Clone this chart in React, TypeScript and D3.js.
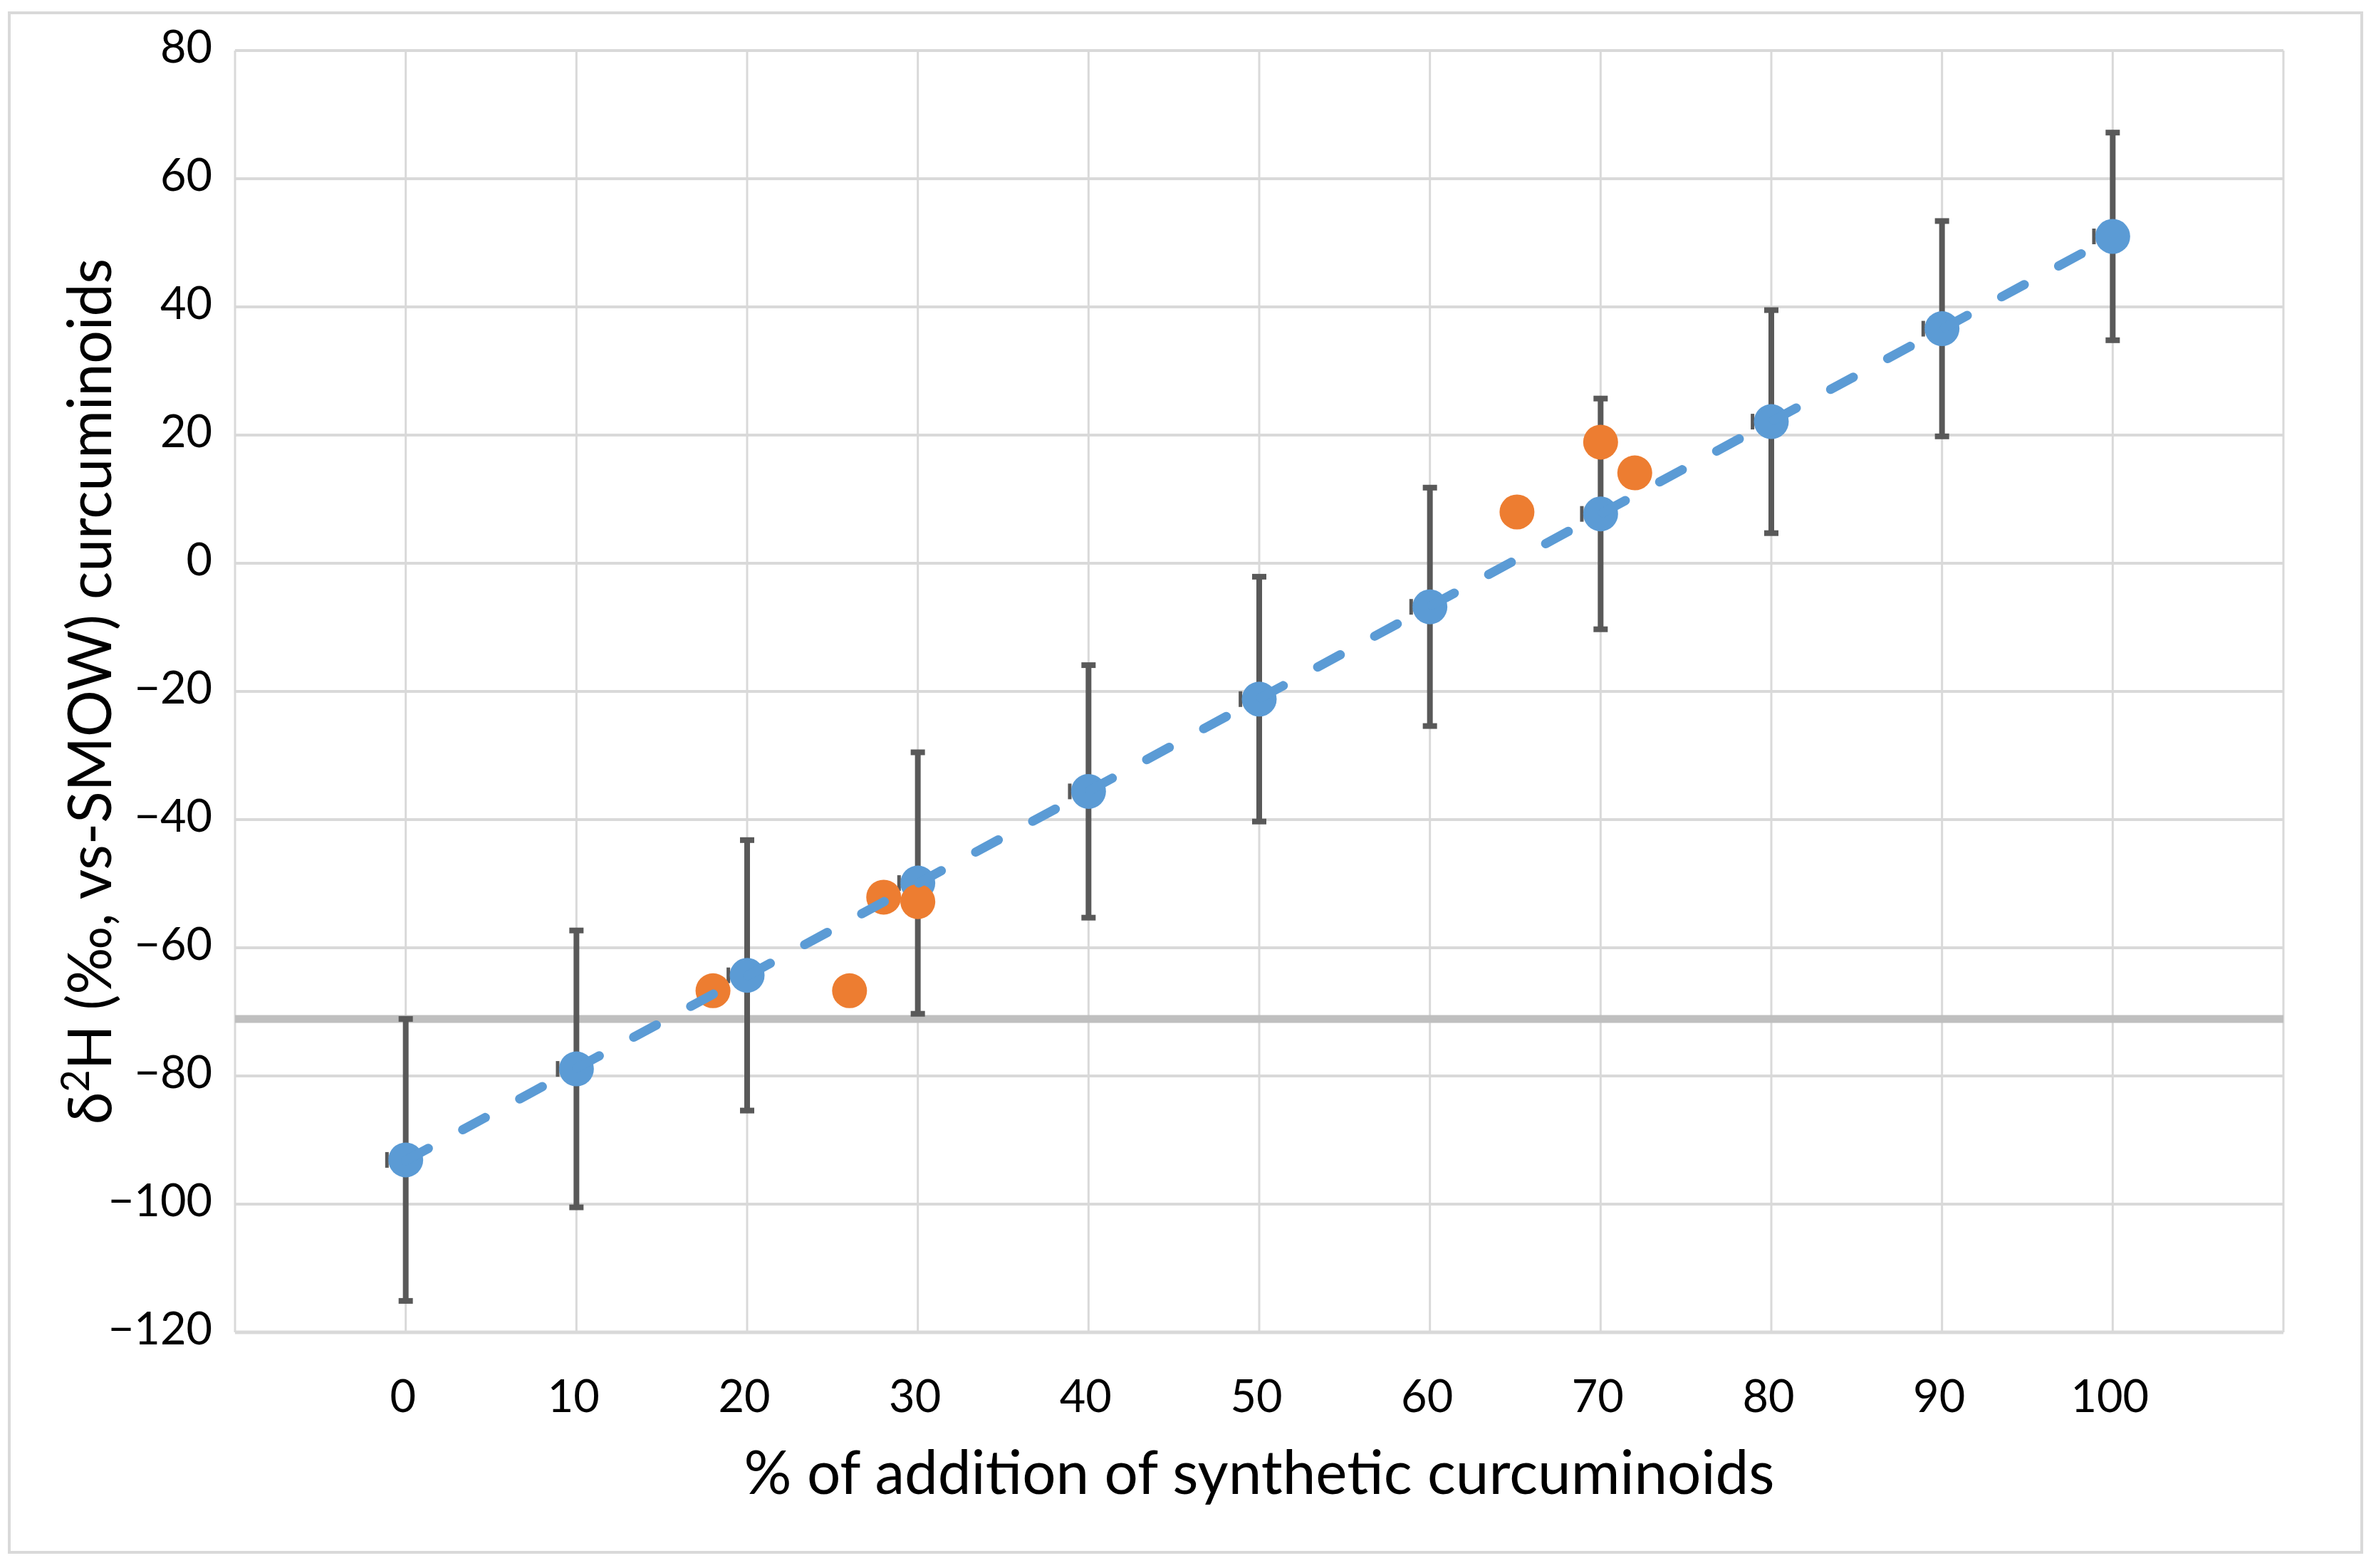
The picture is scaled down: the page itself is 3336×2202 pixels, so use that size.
import React from "react";
import * as d3 from "d3";

// ---- data ----
const additionPct = [0, 10, 20, 30, 40, 50, 60, 70, 80, 90, 100];
const blueMeans = [-93.1, -78.9, -64.3, -49.9, -35.6, -21.2, -6.8, 7.7, 22.1, 36.6, 51.0];
const blueErrors = [22.0, 21.6, 21.1, 20.4, 19.7, 19.1, 18.6, 18.0, 17.4, 16.8, 16.2];
const blueXErrorMinus = 1.1;
const orangeX = [18.0, 26.0, 28.0, 30.0, 65.1, 70.0, 72.0];
const orangeY = [-66.7, -66.7, -52.1, -52.8, 8.0, 18.9, 14.1];
const thresholdValue = -71.1;
const xTicks = [0, 10, 20, 30, 40, 50, 60, 70, 80, 90, 100];
const xGridValues = [-10, 0, 10, 20, 30, 40, 50, 60, 70, 80, 90, 100, 110];
const yTicks = [-120, -100, -80, -60, -40, -20, 0, 20, 40, 60, 80];
const xTitle = "% of addition of synthetic curcuminoids";

const W = 3336;
const H = 2202;
const FONT = "Lato, 'Open Sans', sans-serif";
const BLUE = "#5B9BD5";
const ORANGE = "#ED7D31";
const ERR = "#595959";
const GRID = "#D9D9D9";

export default function App() {
  const x = d3.scaleLinear().domain([-10, 110]).range([330, 3206]);
  const y = d3.scaleLinear().domain([-120, 80]).range([1871, 71]);

  // least-squares linear trendline of the blue series
  const mx = d3.mean(additionPct)!;
  const my = d3.mean(blueMeans)!;
  const slope =
    d3.sum(additionPct.map((v, i) => (v - mx) * (blueMeans[i] - my))) /
    d3.sum(additionPct.map((v) => (v - mx) * (v - mx)));
  const intercept = my - slope * mx;
  const x0 = d3.min(additionPct)!;
  const x1 = d3.max(additionPct)!;
  const trend = d3.line<number>()
    .x((v) => x(v))
    .y((v) => y(intercept + slope * v))([x0, x1]);

  const fmt = d3.format("d");

  return (
    <svg
      width={W}
      height={H}
      viewBox={`0 0 ${W} ${H}`}
      style={{ position: "absolute", left: 0, top: 0, display: "block", background: "#fff" }}
    >
      <rect x={0} y={0} width={W} height={H} fill="#fff" />
      <rect x={13} y={18} width={3303} height={2162} fill="#fff" stroke={GRID} strokeWidth={4} />

      {/* gridlines */}
      <g>
        {xGridValues.map((v) => (
          <line key={"vx" + v} x1={x(v)} x2={x(v)} y1={y(80)} y2={y(-120)} stroke={GRID} strokeWidth={3} />
        ))}
        {yTicks.map((v) => (
          <line key={"hy" + v} x1={x(-10)} x2={x(110)} y1={y(v)} y2={y(v)} stroke={GRID} strokeWidth={v === -120 ? 5 : 4} />
        ))}
      </g>

      {/* threshold line */}
      <line x1={x(-10)} x2={x(110)} y1={y(thresholdValue)} y2={y(thresholdValue)} stroke="#BFBFBF" strokeWidth={11} />

      {/* error bars */}
      <g stroke={ERR}>
        {additionPct.map((v, i) => {
          const cx = x(v);
          const top = y(blueMeans[i] + blueErrors[i]);
          const bot = y(blueMeans[i] - blueErrors[i]);
          const xl = x(v - blueXErrorMinus);
          const cy = y(blueMeans[i]);
          return (
            <g key={"e" + v}>
              <line x1={cx} x2={cx} y1={top} y2={bot} strokeWidth={8} />
              <line x1={cx - 10} x2={cx + 10} y1={top} y2={top} strokeWidth={8} />
              <line x1={cx - 10} x2={cx + 10} y1={bot} y2={bot} strokeWidth={8} />
              <line x1={xl} x2={cx} y1={cy} y2={cy} strokeWidth={5} />
              <line x1={xl} x2={xl} y1={cy - 11} y2={cy + 11} strokeWidth={5} />
            </g>
          );
        })}
      </g>

      {/* blue markers */}
      <g fill={BLUE}>
        {additionPct.map((v, i) => (
          <circle key={"b" + v} cx={x(v)} cy={y(blueMeans[i])} r={24.5} />
        ))}
      </g>

      {/* orange markers */}
      <g fill={ORANGE}>
        {orangeX.map((v, i) => (
          <circle key={"o" + i} cx={x(v)} cy={y(orangeY[i])} r={24.5} />
        ))}
      </g>

      {/* trendline */}
      <path d={trend ?? ""} fill="none" stroke={BLUE} strokeWidth={13} strokeLinecap="round" strokeDasharray="36 55" />

      {/* y tick labels */}
      <g fontFamily={FONT} fontSize={63} fill="#000" textAnchor="end">
        {yTicks.map((v) => (
          <text key={"yl" + v} x={298} y={y(v) + 17}>
            {fmt(v)}
          </text>
        ))}
      </g>

      {/* x tick labels */}
      <g fontFamily={FONT} fontSize={63} fill="#000" textAnchor="middle">
        {xTicks.map((v) => (
          <text key={"xl" + v} x={x(v) - 4} y={1983}>
            {fmt(v)}
          </text>
        ))}
      </g>

      {/* axis titles */}
      <text
        x={(x(-10) + x(110)) / 2}
        y={2098}
        fontFamily={FONT}
        fontSize={86}
        textAnchor="middle"
        fill="#000"
        textLength={1447}
        lengthAdjust="spacingAndGlyphs"
      >
        {xTitle}
      </text>
      <text
        transform={`translate(156, ${(y(80) + y(-120)) / 2}) rotate(-90)`}
        fontFamily={FONT}
        fontSize={86}
        textAnchor="middle"
        fill="#000"
        textLength={1216}
        lengthAdjust="spacingAndGlyphs"
      >
        <tspan>δ</tspan>
        <tspan fontSize={57} dy={-31}>2</tspan>
        <tspan dy={31}>H (‰, vs-SMOW) curcuminoids</tspan>
      </text>
    </svg>
  );
}
